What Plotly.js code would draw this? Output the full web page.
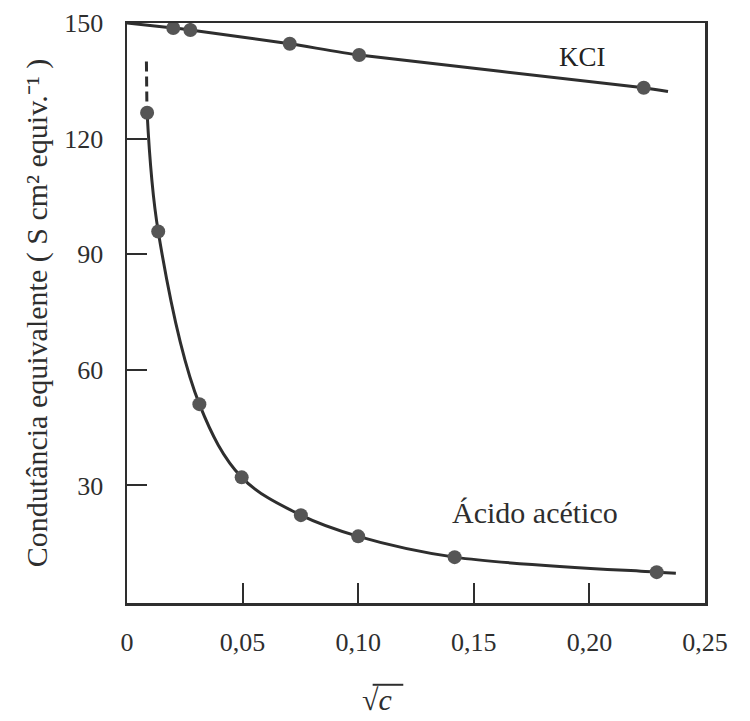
<!DOCTYPE html>
<html>
<head>
<meta charset="utf-8">
<script src="https://cdn.plot.ly/plotly-3.0.1.min.js"></script>
<style>html,body{margin:0;padding:0;background:#fff;}#chart{width:750px;height:721px;}</style>
</head>
<body>
<div id="chart"></div>
<script>
// KCl data (sqrt c, equivalent conductance)
const kclX = [0.020, 0.0274, 0.0704, 0.1004, 0.2235];
const kclY = [148.7, 148.2, 144.6, 141.7, 133.2];
// KCl fitted line (starts at limiting value, extends past last point)
const kclLineX = [0, 0.020, 0.0274, 0.0704, 0.1004, 0.2235, 0.234];
const kclLineY = [150, 148.7, 148.2, 144.6, 141.7, 133.2, 132.2];

// Acetic acid data
const acidX = [0.0087, 0.0135, 0.0313, 0.0496, 0.0752, 0.100, 0.1417, 0.2291];
const acidY = [126.7, 95.9, 51.1, 32.1, 22.3, 16.8, 11.4, 7.5];
const acidLineX = [0.0087, 0.0135, 0.0313, 0.0496, 0.0752, 0.100, 0.1417, 0.2291, 0.2374];
const acidLineY = [126.7, 95.9, 51.1, 32.1, 22.3, 16.8, 11.4, 7.5, 7.2];
// dashed extrapolation above first acid point
const acidDashX = [0.0084, 0.0086];
const acidDashY = [140, 129];

const xTickVals = [0, 0.05, 0.10, 0.15, 0.20, 0.25];
const xTickText = ['0', '0,05', '0,10', '0,15', '0,20', '0,25'];
const yTickVals = [30, 60, 90, 120, 150];
const yTickText = ['30', '60', '90', '120', '150'];

const ink = '#2e2e2e';
const dot = '#555';
const serif = 'Liberation Serif';

const traces = [
  {x: kclLineX, y: kclLineY, mode: 'lines', line: {color: ink, width: 3, shape: 'spline', smoothing: 0.6}, hoverinfo: 'skip'},
  {x: kclX, y: kclY, mode: 'markers', marker: {color: dot, size: 14}},
  {x: acidLineX, y: acidLineY, mode: 'lines', line: {color: ink, width: 3, shape: 'spline', smoothing: 1}, hoverinfo: 'skip'},
  {x: acidDashX, y: acidDashY, mode: 'lines', line: {color: ink, width: 3, dash: '10px,5px'}, hoverinfo: 'skip'},
  {x: acidX, y: acidY, mode: 'markers', marker: {color: dot, size: 14}}
];

const layout = {
  width: 750, height: 721,
  margin: {l: 127, r: 45, t: 23, b: 118},
  paper_bgcolor: '#fff', plot_bgcolor: '#fff',
  showlegend: false,
  font: {family: serif, color: ink},
  xaxis: {
    range: [0, 0.25], tickvals: xTickVals, ticktext: xTickText,
    ticks: 'inside', ticklen: 20, tickwidth: 2, tickcolor: ink,
    showline: true, mirror: true, linewidth: 2.5, linecolor: ink,
    showgrid: false, zeroline: false,
    tickfont: {size: 26, family: serif, color: ink},
    ticklabelstandoff: 14
  },
  yaxis: {
    range: [-0.5, 150], tickvals: yTickVals, ticktext: yTickText,
    ticks: 'inside', ticklen: 20, tickwidth: 2, tickcolor: ink,
    showline: true, mirror: true, linewidth: 2.5, linecolor: ink,
    showgrid: false, zeroline: false,
    tickfont: {size: 26, family: serif, color: ink},
    ticklabelstandoff: 16,
    title: {text: 'Condutância equivalente ( S cm² equiv.⁻¹ )', font: {size: 30, family: serif, color: ink}, standoff: 8}
  },
  shapes: [
    {type: 'line', xref: 'paper', yref: 'paper', x0: 0.425, x1: 0.478, y0: -0.141, y1: -0.141, line: {color: ink, width: 2}}
  ],
  annotations: [
    {x: 0.197, y: 141.3, xref: 'x', yref: 'y', text: 'KCI', showarrow: false, font: {size: 27, family: serif, color: '#222'}},
    {x: 0.1765, y: 23.1, xref: 'x', yref: 'y', text: 'Ácido acético', showarrow: false, font: {size: 30, family: serif, color: ink}},
    {x: 0.4325, y: -0.167, xref: 'paper', yref: 'paper', yanchor: 'middle', xanchor: 'center', text: '√<i>c</i>', showarrow: false, font: {size: 30, family: serif, color: ink}}
  ]
};

Plotly.newPlot('chart', traces, layout, {displayModeBar: false, staticPlot: true});
</script>
</body>
</html>
